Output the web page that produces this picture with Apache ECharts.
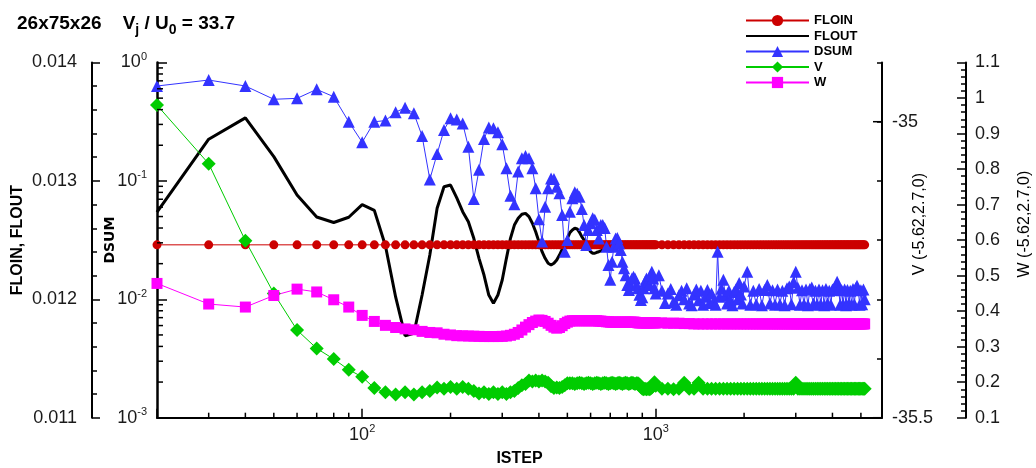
<!DOCTYPE html>
<html>
<head>
<meta charset="utf-8">
<script src="https://cdn.jsdelivr.net/npm/echarts@6/dist/echarts.min.js"></script>
<style>
html, body { margin: 0; padding: 0; background: #fff; }
#main { width: 1036px; height: 468px; }
</style>
</head>
<body>
<div id="main"></div>
<script>
// iteration steps (every 10 up to 1000, then sampled every 50)
var istep = [
  20,30,40,50,60,70,80,90,100,110,
  120,130,140,150,160,170,180,190,200,210,
  220,230,240,250,260,270,280,290,300,310,
  320,330,340,350,360,370,380,390,400,410,
  420,430,440,450,460,470,480,490,500,510,
  520,530,540,550,560,570,580,590,600,610,
  620,630,640,650,660,670,680,690,700,710,
  720,730,740,750,760,770,780,790,800,810,
  820,830,840,850,860,870,880,890,900,910,
  920,930,940,950,960,970,980,990,1000,
  1050,1100,1150,1200,1250,1300,1350,1400,1450,1500,
  1550,1600,1650,1700,1750,1800,1850,1900,1950,2000,
  2050,2100,2150,2200,2250,2300,2350,2400,2450,2500,
  2550,2600,2650,2700,2750,2800,2850,2900,2950,3000,
  3050,3100,3150,3200,3250,3300,3350,3400,3450,3500,
  3550,3600,3650,3700,3750,3800,3850,3900,3950,4000,
  4050,4100,4150,4200,4250,4300,4350,4400,4450,4500,
  4550,4600,4650,4700,4750,4800,4850,4900,4950,5000,
  5050,5100,5150
];

// DSUM is sampled a little more densely between 1000 and 2000
var dsumStep = [
  20,30,40,50,60,70,80,90,100,110,
  120,130,140,150,160,170,180,190,200,210,
  220,230,240,250,260,270,280,290,300,310,
  320,330,340,350,360,370,380,390,400,410,
  420,430,440,450,460,470,480,490,500,510,
  520,530,540,550,560,570,580,590,600,610,
  620,630,640,650,660,670,680,690,700,710,
  720,730,740,750,760,770,780,790,800,810,
  820,830,840,850,860,870,880,890,900,910,
  920,930,940,950,960,970,980,990,1000,
  1025,1050,1075,1100,1125,1150,1175,1200,1225,1250,
  1275,1300,1325,1350,1375,1400,1425,1450,1475,1500,
  1525,1550,1575,1600,1625,1650,1675,1700,1725,1750,
  1775,1800,1825,1850,1875,1900,1925,1950,1975,2000,
  2050,2100,2150,2200,2250,2300,2350,2400,2450,2500,
  2550,2600,2650,2700,2750,2800,2850,2900,2950,3000,
  3050,3100,3150,3200,3250,3300,3350,3400,3450,3500,
  3550,3600,3650,3700,3750,3800,3850,3900,3950,4000,
  4050,4100,4150,4200,4250,4300,4350,4400,4450,4500,
  4550,4600,4650,4700,4750,4800,4850,4900,4950,5000,
  5050,5100,5150
];

var floin = [
  0.01246,0.01246,0.01246,0.01246,0.01246,0.01246,0.01246,0.01246,0.01246,0.01246,
  0.01246,0.01246,0.01246,0.01246,0.01246,0.01246,0.01246,0.01246,0.01246,0.01246,
  0.01246,0.01246,0.01246,0.01246,0.01246,0.01246,0.01246,0.01246,0.01246,0.01246,
  0.01246,0.01246,0.01246,0.01246,0.01246,0.01246,0.01246,0.01246,0.01246,0.01246,
  0.01246,0.01246,0.01246,0.01246,0.01246,0.01246,0.01246,0.01246,0.01246,0.01246,
  0.01246,0.01246,0.01246,0.01246,0.01246,0.01246,0.01246,0.01246,0.01246,0.01246,
  0.01246,0.01246,0.01246,0.01246,0.01246,0.01246,0.01246,0.01246,0.01246,0.01246,
  0.01246,0.01246,0.01246,0.01246,0.01246,0.01246,0.01246,0.01246,0.01246,0.01246,
  0.01246,0.01246,0.01246,0.01246,0.01246,0.01246,0.01246,0.01246,0.01246,0.01246,
  0.01246,0.01246,0.01246,0.01246,0.01246,0.01246,0.01246,0.01246,0.01246,
  0.01246,0.01246,0.01246,0.01246,0.01246,0.01246,0.01246,0.01246,0.01246,0.01246,
  0.01246,0.01246,0.01246,0.01246,0.01246,0.01246,0.01246,0.01246,0.01246,0.01246,
  0.01246,0.01246,0.01246,0.01246,0.01246,0.01246,0.01246,0.01246,0.01246,0.01246,
  0.01246,0.01246,0.01246,0.01246,0.01246,0.01246,0.01246,0.01246,0.01246,0.01246,
  0.01246,0.01246,0.01246,0.01246,0.01246,0.01246,0.01246,0.01246,0.01246,0.01246,
  0.01246,0.01246,0.01246,0.01246,0.01246,0.01246,0.01246,0.01246,0.01246,0.01246,
  0.01246,0.01246,0.01246,0.01246,0.01246,0.01246,0.01246,0.01246,0.01246,0.01246,
  0.01246,0.01246,0.01246,0.01246,0.01246,0.01246,0.01246,0.01246,0.01246,0.01246,
  0.01246,0.01246,0.01246
];

var flout = [
  0.012736,0.013352,0.013532,0.013205,0.012881,0.012695,0.012649,0.012693,0.012799,0.012751,
  0.012452,0.01202,0.011692,0.011713,0.012036,0.012374,0.012769,0.012951,0.012965,0.012856,
  0.01274,0.012655,0.012515,0.012346,0.012205,0.012036,0.011966,0.012036,0.012163,0.012346,
  0.012515,0.012627,0.012684,0.012718,0.012726,0.012698,0.012642,0.012571,0.012487,0.012402,
  0.012346,0.012304,0.01229,0.012304,0.012332,0.012374,0.012422,0.012473,0.012515,0.012563,
  0.012585,0.0126,0.012594,0.012566,0.012529,0.012501,0.012459,0.012431,0.012402,0.012389,
  0.012389,0.012397,0.012402,0.012408,0.012416,0.012402,0.012416,0.012436,0.012453,0.012465,
  0.012481,0.012487,0.012487,0.012481,0.012473,0.012465,0.012459,0.012453,0.01245,0.012444,
  0.012444,0.012444,0.012444,0.012444,0.012444,0.012444,0.012444,0.012444,0.012452,0.012458,
  0.012462,0.012466,0.01247,0.012473,0.012473,0.012473,0.012473,0.012473,0.012473,
  0.012475,0.012459,0.012447,0.012447,0.012456,0.01246,0.012462,0.012462,0.012462,0.012462,
  0.012462,0.012462,0.012462,0.012462,0.012462,0.012462,0.012462,0.012462,0.012462,0.012462,
  0.012462,0.012462,0.012462,0.012462,0.012462,0.012462,0.012462,0.012462,0.012462,0.012462,
  0.012462,0.012462,0.012462,0.012462,0.012462,0.012462,0.012462,0.012462,0.012462,0.012462,
  0.012462,0.012462,0.012462,0.012462,0.012462,0.012462,0.012462,0.012462,0.012462,0.012462,
  0.012462,0.012462,0.012462,0.012462,0.012462,0.012462,0.012462,0.012462,0.012462,0.012462,
  0.012462,0.012462,0.012462,0.012462,0.012462,0.012462,0.012462,0.012462,0.012462,0.012462,
  0.012462,0.012462,0.012462,0.012462,0.012462,0.012462,0.012462,0.012462,0.012462,0.012462,
  0.012462,0.012462,0.012462
];

var dsum = [
  0.633,0.711,0.633,0.489,0.498,0.593,0.514,0.316,0.212,0.316,
  0.323,0.38,0.415,0.372,0.239,0.103,0.169,0.269,0.338,0.33,
  0.306,0.194,0.0703,0.124,0.226,0.282,0.278,0.257,0.204,0.128,
  0.075,0.0634,0.12,0.155,0.162,0.155,0.128,0.0866,0.0474,0.0307,
  0.0605,0.0866,0.105,0.104,0.0893,0.0785,0.0515,0.0252,0.0317,0.055,
  0.0713,0.0801,0.078,0.0736,0.0579,0.0424,0.0288,0.0385,0.0439,0.0483,
  0.047,0.0385,0.0327,0.0424,0.0424,0.04,0.0278,0.0195,0.0146,0.0208,
  0.0278,0.0327,0.033,0.0297,0.0261,0.0208,0.0183,0.016,0.0132,0.012,
  0.0132,0.015,0.0155,0.015,0.0132,0.0124,0.0109,0.00986,0.0104,0.0124,
  0.0141,0.015,0.0141,0.0132,0.016,0.0171,0.015,0.0124,0.0112,
  0.016,0.0118,0.0093,0.0112,0.0122,0.0095,0.009,0.0108,0.0118,0.01,
  0.0124,0.0092,0.0089,0.011,0.0121,0.0098,0.0118,0.009,0.0105,0.012,
  0.0093,0.0112,0.0096,0.009,0.0252,0.0105,0.0123,0.0146,0.0108,0.0092,
  0.0118,0.0098,0.0089,0.0115,0.0121,0.01,0.0137,0.011,0.0092,0.0128,
  0.0171,0.009,0.0118,0.0091,0.0122,0.0089,0.012,0.0132,0.0092,0.0119,
  0.009,0.0121,0.0091,0.0118,0.0089,0.0124,0.0128,0.0091,0.014,0.0171,
  0.0125,0.009,0.0119,0.0091,0.0121,0.0089,0.0122,0.0126,0.0092,0.0118,
  0.009,0.0121,0.0091,0.0119,0.0089,0.0122,0.0092,0.0118,0.009,0.0121,
  0.0123,0.013,0.0141,0.012,0.009,0.0119,0.0091,0.0121,0.0089,0.012,
  0.0092,0.0118,0.009,0.0122,0.0091,0.0124,0.013,0.012,0.009,0.0119,
  0.0091,0.0121,0.01
];

var vval = [
  -34.972,-35.071,-35.201,-35.29,-35.352,-35.383,-35.401,-35.419,-35.431,-35.45,
  -35.457,-35.461,-35.457,-35.461,-35.457,-35.455,-35.449,-35.451,-35.448,-35.451,
  -35.448,-35.451,-35.455,-35.459,-35.457,-35.46,-35.457,-35.46,-35.457,-35.46,
  -35.457,-35.455,-35.45,-35.445,-35.443,-35.437,-35.439,-35.437,-35.439,-35.437,
  -35.439,-35.441,-35.447,-35.45,-35.449,-35.45,-35.448,-35.445,-35.442,-35.442,
  -35.442,-35.443,-35.442,-35.441,-35.442,-35.443,-35.442,-35.441,-35.442,-35.443,
  -35.442,-35.441,-35.442,-35.443,-35.442,-35.441,-35.442,-35.443,-35.442,-35.441,
  -35.442,-35.443,-35.442,-35.441,-35.442,-35.443,-35.442,-35.441,-35.442,-35.443,
  -35.442,-35.441,-35.442,-35.443,-35.442,-35.442,-35.444,-35.448,-35.451,-35.452,
  -35.451,-35.452,-35.451,-35.452,-35.451,-35.449,-35.445,-35.44,-35.446,
  -35.451,-35.451,-35.452,-35.451,-35.441,-35.451,-35.451,-35.441,-35.451,-35.451,
  -35.451,-35.451,-35.451,-35.451,-35.451,-35.451,-35.451,-35.451,-35.451,-35.451,
  -35.451,-35.451,-35.451,-35.451,-35.451,-35.451,-35.451,-35.451,-35.451,-35.451,
  -35.451,-35.451,-35.451,-35.451,-35.451,-35.451,-35.451,-35.451,-35.451,-35.441,
  -35.451,-35.451,-35.451,-35.451,-35.451,-35.451,-35.451,-35.451,-35.451,-35.451,
  -35.451,-35.451,-35.451,-35.451,-35.451,-35.451,-35.451,-35.451,-35.451,-35.451,
  -35.451,-35.451,-35.451,-35.451,-35.451,-35.451,-35.451,-35.451,-35.451,-35.451,
  -35.451,-35.451,-35.451,-35.451,-35.451,-35.451,-35.451,-35.451,-35.451,-35.451,
  -35.451,-35.451,-35.451
];

var wval = [
  0.478,0.42,0.4115,0.444,0.462,0.454,0.432,0.4115,0.388,0.371,
  0.36,0.354,0.35,0.3475,0.343,0.34,0.339,0.335,0.333,0.331,
  0.3305,0.33,0.3295,0.329,0.3285,0.3285,0.3285,0.3285,0.329,0.33,
  0.332,0.335,0.34,0.347,0.355,0.362,0.368,0.372,0.375,0.374,
  0.371,0.366,0.36,0.355,0.352,0.354,0.359,0.365,0.369,0.372,
  0.373,0.373,0.373,0.373,0.373,0.373,0.373,0.373,0.373,0.373,
  0.373,0.373,0.372,0.372,0.371,0.371,0.37,0.37,0.369,0.369,
  0.369,0.369,0.369,0.369,0.369,0.369,0.369,0.369,0.369,0.369,
  0.369,0.369,0.369,0.369,0.368,0.367,0.367,0.367,0.367,0.367,
  0.367,0.367,0.367,0.367,0.367,0.367,0.367,0.367,0.367,
  0.367,0.366,0.366,0.366,0.365,0.365,0.364,0.364,0.364,0.364,
  0.364,0.364,0.364,0.364,0.364,0.364,0.364,0.364,0.364,0.364,
  0.364,0.364,0.364,0.364,0.364,0.364,0.364,0.364,0.364,0.364,
  0.364,0.364,0.364,0.364,0.364,0.364,0.364,0.364,0.364,0.364,
  0.364,0.364,0.364,0.364,0.364,0.364,0.364,0.364,0.364,0.364,
  0.364,0.364,0.364,0.364,0.364,0.364,0.364,0.364,0.364,0.364,
  0.364,0.364,0.364,0.364,0.364,0.364,0.364,0.364,0.364,0.364,
  0.364,0.364,0.364,0.364,0.364,0.364,0.364,0.364,0.364,0.364,
  0.364,0.364,0.364
];

// tick values for the log axes and the labelled V ticks
var xMinorTicks = [30,40,50,60,70,80,90,200,300,400,500,600,700,800,900,2000,3000,4000,5000];
var dsumMinor = [0.002,0.003,0.004,0.005,0.006,0.007,0.008,0.009,
                 0.02,0.03,0.04,0.05,0.06,0.07,0.08,0.09,
                 0.2,0.3,0.4,0.5,0.6,0.7,0.8,0.9];
var vLabels = [-35.5, -35];

var FONT = 'Liberation Sans, Arial, sans-serif';
var X_MIN = 20, X_MAX = 5900;

function pairs(xs, ys) {
  var out = [];
  for (var i = 0; i < xs.length; i++) out.push([xs[i], ys[i]]);
  return out;
}
function pow10(v) {
  var l = Math.log10(v);
  if (Math.abs(l - Math.round(l)) > 1e-6) return '';
  return '{m|10}{s|' + Math.round(l) + '}';
}
var powRich = {
  m: { fontSize: 18, fontFamily: FONT, color: '#1a1a1a', lineHeight: 22, verticalAlign: 'middle' },
  s: { fontSize: 11, fontFamily: FONT, color: '#1a1a1a', lineHeight: 11, verticalAlign: 'top' }
};
var tickLine = { color: '#000', width: 1.5 };
var axLine = { color: '#000', width: 2 };

// short inside ticks, placed through the axis scales (dx, dy = tick direction)
function tickItem(dx, dy) {
  return function (params, api) {
    var p = api.coord([api.value(0), api.value(1)]);
    return { type: 'line', shape: { x1: p[0], y1: p[1], x2: p[0] + dx, y2: p[1] + dy },
             style: { stroke: '#000', lineWidth: 1.5 } };
  };
}

var myChart = echarts.init(document.getElementById('main'));

var option = {
  animation: false,
  backgroundColor: '#fff',
  title: {
    text: '{m|26x75x26    V}{s|j}{m| / U}{s|0}{m| = 33.7}',
    left: 17, top: 11, padding: 0,
    textStyle: {
      rich: {
        m: { fontSize: 19, fontWeight: 'bold', fontFamily: FONT, color: '#000', lineHeight: 26, verticalAlign: 'middle' },
        s: { fontSize: 14, fontWeight: 'bold', fontFamily: FONT, color: '#000', lineHeight: 14, verticalAlign: 'bottom' }
      }
    }
  },
  legend: {
    orient: 'vertical',
    left: 745, top: 14, padding: 0,
    itemWidth: 63, itemHeight: 14, itemGap: 2.5,
    selectedMode: false,
    textStyle: { fontSize: 13, fontWeight: 'bold', fontFamily: FONT, color: '#000' },
    data: [
      'FLOIN',
      { name: 'FLOUT', itemStyle: { color: 'rgba(0,0,0,0)', borderColor: 'rgba(0,0,0,0)', borderWidth: 0 } },
      'DSUM', 'V', 'W'
    ]
  },
  grid: { left: 157, right: 154, top: 62.5, bottom: 50.3, containLabel: false, outerBoundsMode: 'none' },
  xAxis: {
    type: 'log', logBase: 10, min: X_MIN, max: X_MAX, position: 'bottom',
    axisLine: { show: true, onZero: false, lineStyle: axLine },
    axisTick: { show: true, inside: true, length: 9, lineStyle: tickLine },
    axisLabel: { show: true, margin: 6, formatter: pow10, rich: powRich },
    splitLine: { show: false },
    name: 'ISTEP', nameLocation: 'middle', nameGap: 33, nameMoveOverlap: false,
    nameTextStyle: { fontSize: 16, fontWeight: 'bold', fontFamily: FONT, color: '#000' }
  },
  yAxis: [
    {
      // FLOIN, FLOUT
      type: 'value', position: 'left', offset: 65,
      min: 0.011, max: 0.014, interval: 0.001,
      axisLine: { show: true, onZero: false, lineStyle: axLine },
      axisTick: { show: true, inside: true, length: 8, lineStyle: tickLine },
      minorTick: { show: true, splitNumber: 5, length: 5, lineStyle: tickLine },
      axisLabel: { margin: 15, fontSize: 18, fontFamily: FONT, color: '#1a1a1a' },
      splitLine: { show: false },
      name: 'FLOIN, FLOUT', nameLocation: 'middle', nameRotate: 90, nameGap: 66, nameMoveOverlap: false,
      nameTextStyle: { fontSize: 16, fontWeight: 'bold', fontFamily: FONT, color: '#000' }
    },
    {
      // DSUM
      type: 'log', logBase: 10, position: 'left', min: 0.001, max: 1,
      axisLine: { show: true, onZero: false, lineStyle: { color: '#000', width: 2.5 } },
      axisTick: { show: true, inside: true, length: 10, lineStyle: tickLine },
      axisLabel: { show: true, margin: 10, formatter: pow10, rich: powRich },
      splitLine: { show: false },
      name: 'DSUM', nameLocation: 'middle', nameRotate: 90, nameGap: 40, nameMoveOverlap: false,
      nameTextStyle: { fontSize: 14, fontWeight: 'bold', fontFamily: 'DejaVu Sans, sans-serif', color: '#000' }
    },
    {
      // V
      type: 'value', position: 'right', min: -35.5, max: -34.9, interval: 0.1,
      axisLine: { show: true, onZero: false, lineStyle: axLine },
      axisTick: { show: true, inside: true, length: 5, lineStyle: tickLine },
      axisLabel: { show: true, customValues: vLabels, margin: 10, fontSize: 18, fontFamily: FONT, color: '#1a1a1a' },
      splitLine: { show: false },
      name: 'V (-5.62,2.7,0)', nameLocation: 'middle', nameRotate: 90, nameGap: 30, nameMoveOverlap: false,
      nameTextStyle: { fontSize: 16, fontFamily: FONT, color: '#000', padding: [0, 0, 0, 32] }
    },
    {
      // W
      type: 'value', position: 'right', offset: 84, min: 0.1, max: 1.1, interval: 0.1,
      axisLine: { show: true, onZero: false, lineStyle: axLine },
      axisTick: { show: true, inside: true, length: 9, lineStyle: tickLine },
      minorTick: { show: true, splitNumber: 5, length: 5, lineStyle: tickLine },
      axisLabel: { margin: 9, fontSize: 18, fontFamily: FONT, color: '#1a1a1a' },
      splitLine: { show: false },
      name: 'W (-5.62,2.7,0)', nameLocation: 'middle', nameRotate: 90, nameGap: 51, nameMoveOverlap: false,
      nameTextStyle: { fontSize: 16, fontFamily: FONT, color: '#000', padding: [0, 0, 0, 32] }
    }
  ],
  series: [
    {
      name: 'FLOIN', type: 'line', xAxisIndex: 0, yAxisIndex: 0,
      data: pairs(istep, floin),
      symbol: 'circle', symbolSize: 9,
      lineStyle: { color: '#cc0000', width: 1 },
      itemStyle: { color: '#cc0000' }
    },
    {
      name: 'FLOUT', type: 'line', xAxisIndex: 0, yAxisIndex: 0,
      data: pairs(istep, flout),
      symbol: 'none',
      lineStyle: { color: '#000', width: 3 },
      itemStyle: { color: '#000' }
    },
    {
      name: 'DSUM', type: 'line', xAxisIndex: 0, yAxisIndex: 1,
      data: pairs(dsumStep, dsum),
      symbol: 'triangle', symbolSize: 12,
      lineStyle: { color: '#3333ff', width: 1 },
      itemStyle: { color: '#3333ff' }
    },
    {
      name: 'V', type: 'line', xAxisIndex: 0, yAxisIndex: 2,
      data: pairs(istep, vval),
      symbol: 'diamond', symbolSize: 14,
      lineStyle: { color: '#00cc00', width: 1 },
      itemStyle: { color: '#00cc00' }
    },
    {
      name: 'W', type: 'line', xAxisIndex: 0, yAxisIndex: 3,
      data: pairs(istep, wval),
      symbol: 'rect', symbolSize: 11,
      lineStyle: { color: '#ff00ff', width: 1 },
      itemStyle: { color: '#ff00ff' }
    },
    {
      // minor ticks of the ISTEP axis
      type: 'custom', xAxisIndex: 0, yAxisIndex: 1, silent: true, clip: false, z: 5,
      data: xMinorTicks.map(function (v) { return [v, 0.001]; }),
      renderItem: tickItem(0, -5)
    },
    {
      // minor ticks of the DSUM axis
      type: 'custom', xAxisIndex: 0, yAxisIndex: 1, silent: true, clip: false, z: 5,
      data: dsumMinor.map(function (v) { return [X_MIN, v]; }),
      renderItem: tickItem(6, 0)
    },
    {
      // longer ticks at the labelled V values
      type: 'custom', xAxisIndex: 0, yAxisIndex: 2, silent: true, clip: false, z: 5,
      data: vLabels.map(function (v) { return [X_MAX, v]; }),
      renderItem: tickItem(-9, 0)
    }
  ]
};

myChart.setOption(option);
</script>
</body>
</html>
